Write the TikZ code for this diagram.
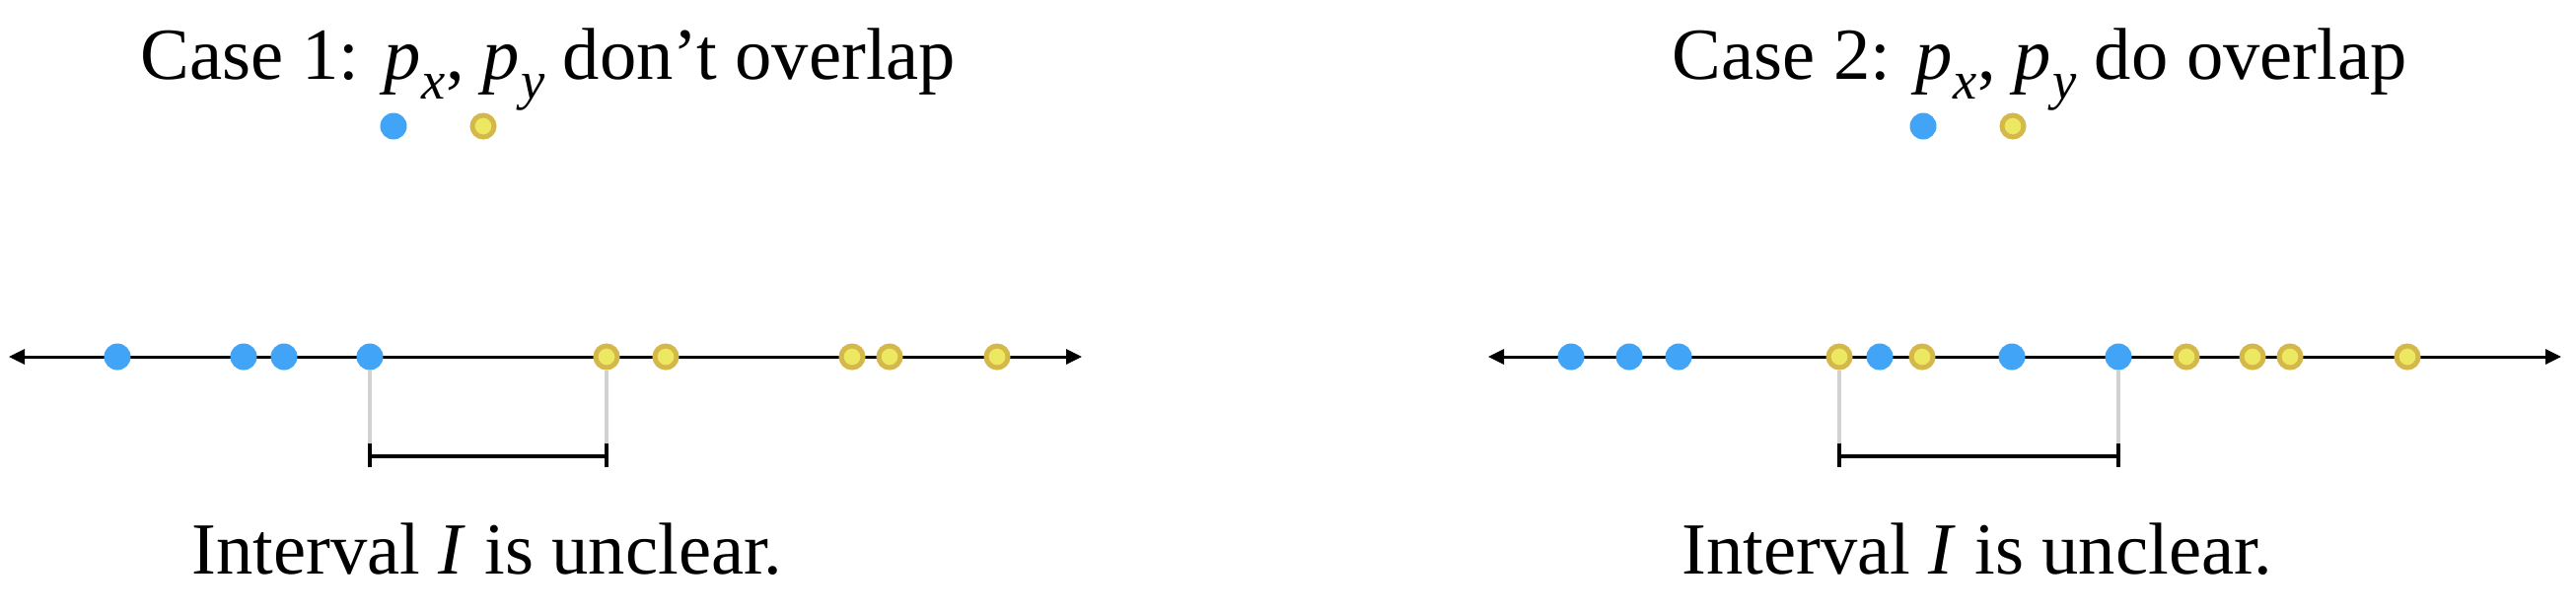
\documentclass[tikz,border=0pt]{standalone}
\usepackage{fontspec}
\setmainfont{Liberation Serif}
\usetikzlibrary{arrows.meta}
\definecolor{dotblue}{HTML}{42A4F7}
\definecolor{dotyel}{HTML}{EDE862}
\definecolor{dotyelb}{HTML}{D5B84A}
\definecolor{guide}{HTML}{D2D2D2}
\newcommand{\pvar}[1]{\textit{p}\kern0.02em\raisebox{-0.28em}{\fontsize{15.5}{16}\selectfont\textit{#1}}}
\begin{document}
\begin{tikzpicture}[x=0.01cm,y=-0.01cm,
  bdot/.style={circle,fill=dotblue,inner sep=0pt,minimum size=0.27cm},
  ydot/.style={circle,fill=dotyel,draw=dotyelb,line width=0.05cm,inner sep=0pt,minimum size=0.22cm},
  axisline/.style={line width=0.03cm,{Triangle[length=0.16cm,width=0.15cm]}-{Triangle[length=0.16cm,width=0.15cm]}},
  guideline/.style={draw=guide,line width=0.035cm},
  bracket/.style={line width=0.04cm},
  lbl/.style={font=\fontsize{21.2}{25}\selectfont,inner sep=0pt}]
\useasboundingbox (0,0) rectangle (2612,620);

% ---------- Case 1 ----------
\node[lbl,anchor=base west] (t1) at (142,80) {Case 1: \pvar{x}, \pvar{y} don't overlap};
\node[bdot] (t1b) at (399,128) {};
\node[ydot] (t1y) at (490,128) {};

\coordinate (a1l) at (9,362);
\coordinate (a1r) at (1097,362);
\draw[axisline] (a1l) -- (a1r);

\node[bdot] (p1) at (119,362) {};
\node[bdot] (p2) at (247,362) {};
\node[bdot] (p3) at (288,362) {};
\node[bdot] (p4) at (375,362) {};
\node[ydot] (q1) at (615,362) {};
\node[ydot] (q2) at (675,362) {};
\node[ydot] (q3) at (864,362) {};
\node[ydot] (q4) at (902,362) {};
\node[ydot] (q5) at (1011,362) {};

\coordinate (c1lt) at (375,450);
\coordinate (c1lm) at (375,463);
\coordinate (c1lb) at (375,474);
\coordinate (c1rt) at (615,450);
\coordinate (c1rm) at (615,463);
\coordinate (c1rb) at (615,474);
\draw[guideline] (p4.south) -- (c1lt);
\draw[guideline] (q1.south) -- (c1rt);
\draw[bracket] (c1lt) -- (c1lb) (c1lm) -- (c1rm) (c1rt) -- (c1rb);

\node[lbl,anchor=base] (i1) at (494,582) {Interval \textit{I} is unclear.};

% ---------- Case 2 ----------
\node[lbl,anchor=base west] (t2) at (1695,80) {Case 2: \pvar{x}, \pvar{y} do overlap};
\node[bdot] (t2b) at (1950,128) {};
\node[ydot] (t2y) at (2041,128) {};

\coordinate (a2l) at (1509,362);
\coordinate (a2r) at (2597,362);
\draw[axisline] (a2l) -- (a2r);

\node[bdot] (r1) at (1593,362) {};
\node[bdot] (r2) at (1652,362) {};
\node[bdot] (r3) at (1702,362) {};
\node[ydot] (s1) at (1865,362) {};
\node[bdot] (r4) at (1906,362) {};
\node[ydot] (s2) at (1949,362) {};
\node[bdot] (r5) at (2040,362) {};
\node[bdot] (r6) at (2148,362) {};
\node[ydot] (s3) at (2217,362) {};
\node[ydot] (s4) at (2284,362) {};
\node[ydot] (s5) at (2322,362) {};
\node[ydot] (s6) at (2441,362) {};

\coordinate (c2lt) at (1865,450);
\coordinate (c2lm) at (1865,463);
\coordinate (c2lb) at (1865,474);
\coordinate (c2rt) at (2148,450);
\coordinate (c2rm) at (2148,463);
\coordinate (c2rb) at (2148,474);
\draw[guideline] (s1.south) -- (c2lt);
\draw[guideline] (r6.south) -- (c2rt);
\draw[bracket] (c2lt) -- (c2lb) (c2lm) -- (c2rm) (c2rt) -- (c2rb);

\node[lbl,anchor=base] (i2) at (2005,582) {Interval \textit{I} is unclear.};
\end{tikzpicture}
\end{document}
